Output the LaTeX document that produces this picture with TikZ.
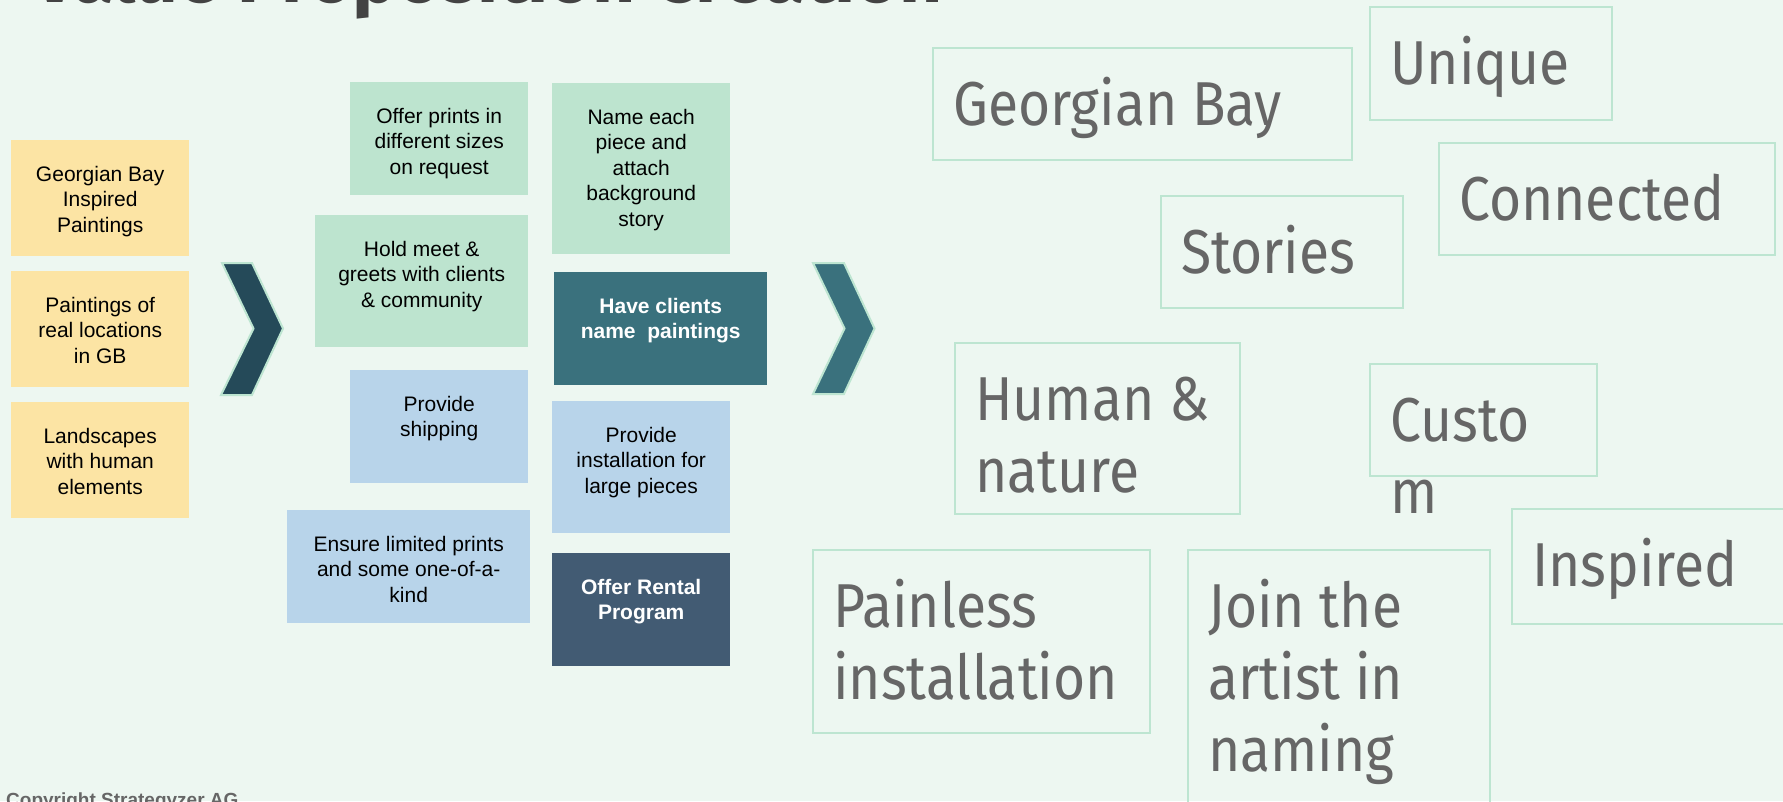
\documentclass[tikz,border=0pt]{standalone}
\usepackage{fontspec}
\newfontfamily\bodyfont{Liberation Sans}
\newfontfamily\wordfont[FakeStretch=0.89]{Fira Sans}
\newfontfamily\titlefont{Fira Sans}

\definecolor{bg}{HTML}{EDF7F1}
\definecolor{ylw}{HTML}{FCE4A4}
\definecolor{grn}{HTML}{BDE4CF}
\definecolor{blu}{HTML}{B8D4EA}
\definecolor{teal}{HTML}{3A717D}
\definecolor{navy}{HTML}{425B73}
\definecolor{chevdark}{HTML}{254A59}
\definecolor{rim}{HTML}{BDE5D1}
\definecolor{wordgrey}{HTML}{666666}
\definecolor{titlegrey}{HTML}{434343}

\tikzset{
  card/.style={draw=none, inner sep=0pt, anchor=north west},
  cardtext/.style={inner sep=0pt, anchor=base, text=black,
    font=\bodyfont\fontsize{21}{25.5}\selectfont},
  darktext/.style={cardtext, text=white, font=\bodyfont\bfseries\fontsize{21}{25.5}\selectfont},
  wordbox/.style={draw=rim, line width=2pt, inner sep=0pt, anchor=north west},
  wordtext/.style={inner sep=0pt, anchor=base west, text=wordgrey,
    font=\wordfont\fontsize{62}{72}\selectfont},
  chevron/.style={draw=rim, line width=2pt, line join=miter},
}

% a card: #1 name, #2 colour, #3 top-left, #4 width, #5 height
\newcommand\card[5]{%
  \node[card, fill=#2, minimum width=#4pt, minimum height=#5pt] (#1) at (#3) {};}
% centred text under the top edge of a card
\newcommand\cardlines[4]{%
  \node[#1] (#2-t) at ([yshift=-41pt]#2.north) {\parbox[t]{#3pt}{\centering #4}};}
% outlined word box
\newcommand\wbox[5]{%
  \node[wordbox, minimum width=#3pt, minimum height=#4pt] (#1) at (#2) {};
  \node[wordtext] (#1-t) at ([shift={(21,78)}]#1.north west) {\parbox[t]{600pt}{\raggedright #5}};}

\begin{document}
\begin{tikzpicture}[x=1pt,y=-1pt]
  \fill[bg] (0,0) rectangle (1783,801);
  \useasboundingbox (0,0) rectangle (1783,801);
  \clip (0,0) rectangle (1783,801);

  % heading, mostly above the top edge
  \node[inner sep=0pt, anchor=base west, text=titlegrey,
        font=\titlefont\bfseries\fontsize{75}{80}\selectfont] (title) at (33,2)
        {Value Proposition Creation};

  % products
  \card{y1}{ylw}{11,140}{178}{116}
  \card{y2}{ylw}{11,271}{178}{116}
  \card{y3}{ylw}{11,402}{178}{116}
  \cardlines{cardtext}{y1}{170}{Georgian Bay\\Inspired\\Paintings}
  \cardlines{cardtext}{y2}{170}{Paintings of\\real locations\\in GB}
  \cardlines{cardtext}{y3}{170}{Landscapes\\with human\\elements}

  % first chevron
  \fill[chevdark, chevron] (222,263) -- (252,263) -- (283,328.5) -- (252,395)
    -- (221,395) -- (253.5,328.5) -- cycle;

  % gain creators and pain relievers
  \card{g1}{grn}{350,82}{178}{113}
  \card{g2}{grn}{552,83}{178}{171}
  \card{g3}{grn}{315,215}{213}{132}
  \card{t1}{teal}{554,272}{213}{113}
  \card{b1}{blu}{350,370}{178}{113}
  \card{b2}{blu}{552,401}{178}{132}
  \card{b3}{blu}{287,510}{243}{113}
  \card{n1}{navy}{552,553}{178}{113}

  \cardlines{cardtext}{g1}{170}{Offer prints in\\different sizes\\on request}
  \cardlines{cardtext}{g2}{170}{Name each\\piece and\\attach\\background\\story}
  \cardlines{cardtext}{g3}{205}{Hold meet \&\\greets with clients\\\& community}
  \cardlines{darktext}{t1}{205}{Have clients\\name\ \ paintings}
  \cardlines{cardtext}{b1}{170}{Provide\\shipping}
  \cardlines{cardtext}{b2}{170}{Provide\\installation for\\large pieces}
  \cardlines{cardtext}{b3}{235}{Ensure limited prints\\and some one-of-a-\\kind}
  \cardlines{darktext}{n1}{170}{Offer Rental\\Program}

  % second chevron
  \fill[teal, chevron] (813,263) -- (844,263) -- (874.5,328.5) -- (844,394)
    -- (813,394) -- (844.5,328.5) -- cycle;

  % value words
  \wbox{wGB}{932,47}{419}{112}{Georgian Bay}
  \wbox{wUN}{1369,6}{242}{113}{Unique}
  \wbox{wCO}{1438,142}{336}{112}{Connected}
  \wbox{wST}{1160,195}{242}{112}{Stories}
  \wbox{wHN}{954,342}{285}{171}{Human \&\\nature}
  \wbox{wCU}{1369,363}{227}{112}{Custo\\m}
  \wbox{wIN}{1511,508}{300}{115}{Inspired}
  \wbox{wPA}{812,549}{337}{183}{Painless\\installation}
  \wbox{wJO}{1187,549}{302}{280}{Join the\\artist in\\naming}

  % footer, mostly below the bottom edge
  \node[inner sep=0pt, anchor=base west, text=wordgrey,
        font=\bodyfont\bfseries\fontsize{19}{21}\selectfont] (copy) at (6,806)
        {Copyright Strategyzer AG};
\end{tikzpicture}
\end{document}
